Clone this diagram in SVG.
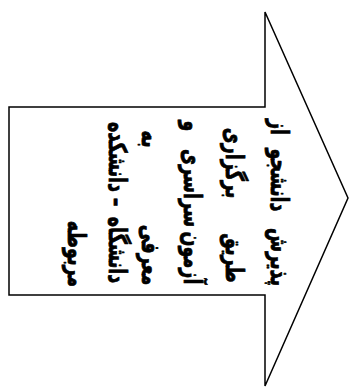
<svg xmlns="http://www.w3.org/2000/svg" width="349" height="388" viewBox="0 0 349 388">
<style>
.shape{fill:#fff;stroke:#000;stroke-width:1.5;stroke-linejoin:miter}
.t{font-family:"DejaVu Sans",sans-serif;font-weight:bold;font-size:25px;fill:#000;stroke:#000;stroke-width:0.8;stroke-linejoin:round;text-anchor:middle;direction:rtl}
</style>
<rect width="349" height="388" fill="#fff"/>
<g id="arrow">
<polygon class="shape" points="9,107 265,107 265,12 348,198 265,386 265,295 9,295"/>
<text class="t" transform="translate(271,257) rotate(90) scale(0.7,1)">پذیرش</text>
<text class="t" transform="translate(271,180) rotate(90) scale(0.7,1)">دانشجو</text>
<text class="t" transform="translate(271,127) rotate(90) scale(0.7,1)">از</text>
<text class="t" transform="translate(226,258) rotate(90) scale(0.7,1)">طریق</text>
<text class="t" transform="translate(226,163) rotate(90) scale(0.7,1)">برگزاری</text>
<text class="t" transform="translate(184,258) rotate(90) scale(0.7,1)">آزمون</text>
<text class="t" transform="translate(184,188) rotate(90) scale(0.7,1)">سراسری</text>
<text class="t" transform="translate(184,126) rotate(90) scale(0.7,1)">و</text>
<text class="t" transform="translate(142,255) rotate(90) scale(0.7,1)">معرفی</text>
<text class="t" transform="translate(142,139) rotate(90) scale(0.7,1)">به</text>
<text class="t" transform="translate(109,250) rotate(90) scale(0.7,1)">دانشگاه</text>
<text class="t" transform="translate(109,202) rotate(90) scale(0.7,1)">–</text>
<text class="t" transform="translate(109,157) rotate(90) scale(0.7,1)">دانشکده</text>
<text class="t" transform="translate(68,254) rotate(90) scale(0.7,1)">مربوطه</text>
</g>
</svg>
